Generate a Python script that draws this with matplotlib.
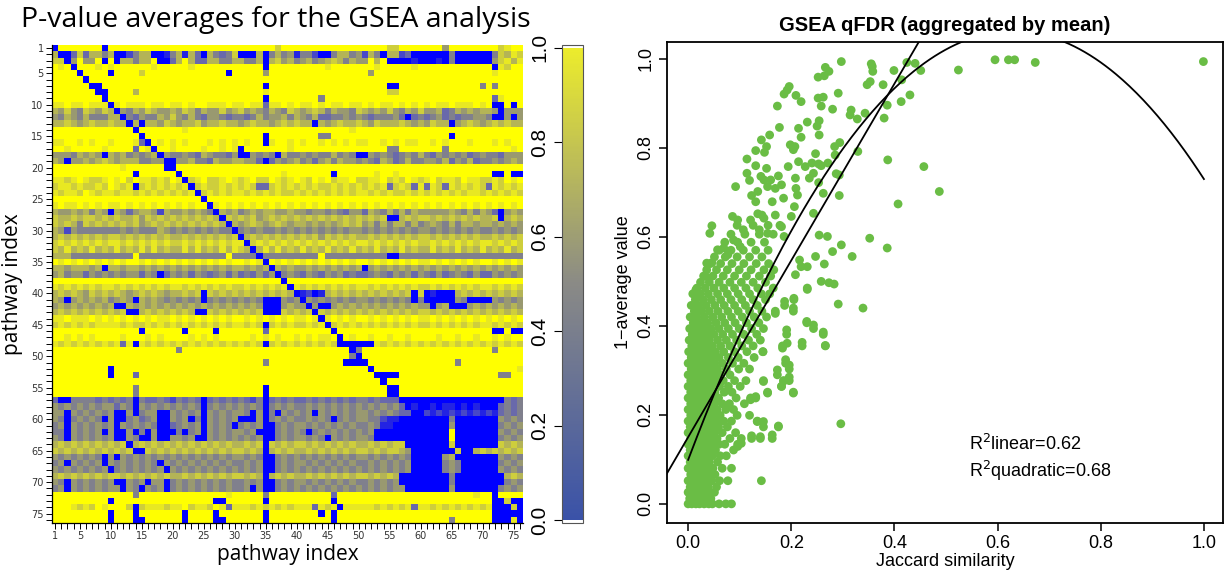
import numpy as np
import matplotlib
matplotlib.use("Agg")
import matplotlib.pyplot as plt
from matplotlib.colors import LinearSegmentedColormap
from matplotlib.cm import ScalarMappable
from matplotlib.colors import Normalize

# heatmap of p-value averages, one digit per cell: 0 -> 0.0 (blue) ... 9 -> 1.0 (yellow)
heat_rows = [
    "0999999909 9999999999 9999999999 9999997999 9999999999 9999779999 9995999999 997899",
    "6003736646 0024660014 6163064347 0006046451 4420046645 2640662300 0000400000 047687",
    "7705955909 0664669003 6963366446 6446067564 5645676465 5969000010 0010400000 057868",
    "9890999898 9999998999 9989999999 9999099999 9999899999 9989999989 9999999999 908799",
    "9999099990 9999799999 9999999909 9999599999 9999999999 9599999999 9999999999 989999",
    "9999909999 9999999999 9999999999 9999999999 9999999999 9999999999 9999999999 999999",
    "9999990099 9999999999 9999999999 9999099999 9999999999 9999009999 9999999994 949999",
    "9999999009 9996999999 9999999999 9999899999 9999999999 9999779999 9999999999 999999",
    "9999999909 9999999999 9999999999 9999099999 9994999999 9999999999 9999999999 938999",
    "8898898880 8988898898 8989988898 8988388989 8898988988 9898898989 8988988898 900909",
    "6575476576 0546576556 5764655756 7565465476 5676465547 6565754657 5563465656 650555",
    "5465464446 6043544657 5464355434 4346455646 5463344545 4344453034 3453434455 400505",
    "6676567667 6606066576 5667566766 5676656767 6606567667 6576667656 5766056765 676766",
    "9999999999 9990999999 9899999999 9999999999 9999999989 9999999999 9999999999 999999",
    "9999999999 9999099999 9999999999 9999099999 9994499999 9999999999 9999099999 999999",
    "8899898998 9998309898 9899989898 9899089989 8998989898 8998989889 9898999899 989899",
    "9989999989 9993980998 9999899898 0999999989 9999999999 9999449999 9994999999 999989",
    "5554656506 5645456054 4543654435 0054540644 5454464540 0545434546 4354545345 443555",
    "6505565676 5666445500 5564436556 6553035456 4535646554 5436534644 5546354634 454565",
    "9999999999 9899999900 9999999999 9999999999 9999999999 9999999999 9999999999 999999",
    "9999999999 9990999999 0999999999 9999999899 9999909999 9989989999 9999999999 900900",
    "8878987789 8979887879 8078977898 7897798789 8798978897 7889787987 8978879887 787989",
    "7887877879 8780787878 7807877878 7873378787 8787787878 7878378738 3873878787 387878",
    "8788798788 7887878787 8780787878 8787878778 7878787878 8787877878 7878787887 878787",
    "9999999999 9999999999 9999099999 9999999999 9999999999 9999999999 9999999999 999999",
    "8988989898 8989898989 8989908989 8989898989 8989898989 8989898989 8989898989 898989",
    "6556564650 6535665265 5656540656 4565665565 5455454355 3654646465 5555654646 530565",
    "7667677676 7667576767 6767676076 7675676767 6767676767 6767006767 7676767676 670676",
    "7676476767 6767567676 7676767606 5676567656 6565656767 5646466464 5654646656 656565",
    "6525444444 4545444654 5454545440 4545445454 5454545455 4545454545 5454545454 454545",
    "6767676767 7676767676 6767676767 0676767676 7675767676 6767676767 7676767676 676767",
    "7878787878 8787878787 7878787878 8078787878 7878787878 8787878787 7878787878 878787",
    "7686768676 8676868676 6868676868 7606868676 8676867686 7686768676 6867686768 676867",
    "6664444444 4449444444 4444444494 4440444444 4449444444 4444004444 4444444444 444444",
    "9898989898 9899898989 8989898989 9898098989 8989898989 9898989898 8989898989 989898",
    "6656665606 6566565656 5656565656 6565606565 5656565656 0565656565 6565656565 656565",
    "5645535454 5455354035 4535434535 3435350454 3543545343 3454354535 4353454353 354545",
    "9999999999 9999999999 9999999999 9999999099 9999999999 9999999999 9999999999 999999",
    "8787878788 7878787878 8787878787 7878787808 7878787878 8787878787 7878787878 878787",
    "6767657676 7656767656 6767076767 6767676760 1201676767 6767676707 0100067676 767676",
    "6505656564 5650656545 4545045454 5454000545 0545454545 5454545404 0000054000 054545",
    "5656565656 0065656565 6565656565 6565000565 5050056565 6565656565 5056000565 656565",
    "6767676767 6700676767 6760076767 6767000767 6707676767 6767676767 7676767676 767676",
    "8898889898 9898989889 8989898989 9898989898 8980898989 9898989898 8989898989 898989",
    "7878787888 8787787878 7878787878 8787078787 7878078787 8787878787 7878787878 878787",
    "9999999999 9999099999 9099990999 9999399999 9999909999 9999999999 9999999999 900900",
    "9989898999 9899989899 9989898999 9989898998 9898890989 9899899899 9989989989 989899",
    "8787878787 8380878787 8787878787 8787078787 8787870000 0087878787 8787878787 878787",
    "9999999999 9999999999 4999999999 9999999999 9999999904 9999999999 9999999999 949999",
    "9999999999 9999999999 9999999999 9999999999 9999999940 9999999999 9999999999 999999",
    "9999999999 9999999999 9999999999 9999499999 9999999000 0999999999 9999949999 999999",
    "9999999990 9999999999 9999999999 9999999999 9999999999 9099999999 9999999999 999998",
    "9999999990 9993999999 9999999999 9999999999 9999999999 9900009999 9999999999 994499",
    "9999999999 9999999999 9999999999 9999999999 9999999999 9990999999 9999999999 999999",
    "9999999999 9994999999 9999999999 9999099999 9999999999 9999009999 9999999999 999999",
    "9999999999 9994999999 9999999999 9999099999 9999999999 9999009999 9999999999 999999",
    "3004444343 4340433432 4343034343 4324034343 3434343434 4343330000 0000000000 000434",
    "5454545455 3540545454 5454045454 5454045454 4545454545 4545453010 0101101010 003434",
    "5505454545 0050455005 4545054545 5405040545 4505454545 5454543300 2121212121 213434",
    "5404545405 0045345005 4504054545 0005045454 4545404545 5442110000 0000400000 005454",
    "4505454545 0545454003 4545054540 4545004545 5454545454 4541100000 0000500000 004545",
    "4405454505 0050405000 4045054545 5450004545 4045454545 4500000000 0000900000 005454",
    "5405454545 0054005005 5450054545 4545004545 5454054545 5400000000 0000900000 004545",
    "6767676767 6706767676 7676767676 6767076767 7676767676 6767677000 0000700000 007676",
    "7676767676 7670076767 6767676767 7676067676 6767676767 7676776500 0000070067 676767",
    "5454545405 0545454545 4545454545 5454004545 4545454545 5454545400 0005600000 005454",
    "4505454505 4545454054 5454545454 4545004545 5454545454 4545454500 0004540000 004545",
    "5454545450 4545454505 4545454545 4545004545 4545454545 4545454500 0004540000 005454",
    "6767676767 7676767676 6767676767 7676067676 6767676767 7676760000 0000400000 000676",
    "5405454545 0054505504 5454545454 4545004545 5454545454 4545450000 0000400000 000454",
    "4505454545 5054054504 5454545454 4505004545 4545454545 4545455000 0000500000 004545",
    "9999999999 9994999999 9999999989 9999499999 9999939999 9999999999 9999999989 909999",
    "9999999990 9999999999 9999990099 9999099999 9999909999 9999999999 9999999999 900700",
    "9998787989 9970788878 8978879838 8878787878 8838780888 8878787838 8787878787 800070",
    "9999999990 9990999999 9099990999 9999099999 9990909999 9999999999 9999999999 900000",
    "9999999990 9990099999 9099990099 9999099999 9999909999 9999999999 9999499999 900080",
]
heat_ticks = [1, 5, 10, 15, 20, 25, 30, 35, 40, 45, 50, 55, 60, 65, 70, 75]

# scattered pairs (Jaccard similarity, 1 - average qFDR), outer points
jac_x = [0.297, 0.266, 0.273, 0.252, 0.264, 0.355, 0.358, 0.357, 0.399, 0.424,
         0.440, 0.451, 0.414, 0.524, 0.595, 0.621, 0.633, 0.673, 0.999, 0.347,
         0.353, 0.378, 0.196, 0.192, 0.186, 0.209, 0.219, 0.252, 0.262, 0.291,
         0.430, 0.413, 0.386, 0.173, 0.258, 0.280, 0.316, 0.314, 0.328, 0.343,
         0.380, 0.254, 0.231, 0.214, 0.177, 0.250, 0.219, 0.254, 0.158, 0.142,
         0.198, 0.207, 0.204, 0.284, 0.294, 0.152, 0.148, 0.131, 0.329, 0.247,
         0.285, 0.114, 0.387, 0.457, 0.214, 0.194, 0.227, 0.240, 0.253, 0.258,
         0.271, 0.131, 0.152, 0.114, 0.287, 0.293, 0.235, 0.243, 0.141, 0.147,
         0.160, 0.175, 0.208, 0.119, 0.092, 0.253, 0.154, 0.169, 0.181, 0.135,
         0.209, 0.212, 0.262, 0.293, 0.487, 0.123, 0.131, 0.163, 0.185, 0.407,
         0.206, 0.169, 0.135, 0.143, 0.147, 0.243, 0.200, 0.086, 0.096, 0.121,
         0.046, 0.042, 0.107, 0.138, 0.154, 0.181, 0.186, 0.352, 0.386, 0.254,
         0.270, 0.297, 0.280, 0.318, 0.247, 0.264, 0.216, 0.219, 0.231, 0.258,
         0.273, 0.283, 0.208, 0.057, 0.069, 0.077, 0.036, 0.046, 0.034, 0.088,
         0.101, 0.015, 0.231, 0.291, 0.339, 0.205, 0.187, 0.204, 0.169, 0.230,
         0.243, 0.262, 0.266, 0.221, 0.191, 0.192, 0.183, 0.145, 0.189, 0.196,
         0.173, 0.196, 0.185, 0.181, 0.204, 0.146, 0.154, 0.131, 0.121, 0.296,
         0.175, 0.146, 0.134, 0.163, 0.140, 0.123, 0.103, 0.096]
avg_y = [0.994, 0.981, 0.972, 0.959, 0.962, 0.989, 0.972, 0.983, 0.974, 0.992,
         0.990, 0.974, 0.953, 0.975, 0.998, 0.998, 0.998, 0.992, 0.994, 0.942,
         0.949, 0.942, 0.938, 0.930, 0.921, 0.918, 0.904, 0.912, 0.914, 0.923,
         0.919, 0.904, 0.896, 0.894, 0.894, 0.887, 0.885, 0.874, 0.865, 0.878,
         0.867, 0.861, 0.858, 0.844, 0.846, 0.849, 0.824, 0.829, 0.829, 0.818,
         0.807, 0.803, 0.796, 0.803, 0.812, 0.803, 0.790, 0.794, 0.792, 0.787,
         0.784, 0.775, 0.773, 0.758, 0.769, 0.758, 0.758, 0.766, 0.764, 0.760,
         0.766, 0.760, 0.754, 0.743, 0.742, 0.739, 0.732, 0.743, 0.736, 0.728,
         0.728, 0.737, 0.732, 0.727, 0.713, 0.722, 0.713, 0.709, 0.717, 0.702,
         0.709, 0.694, 0.698, 0.693, 0.702, 0.693, 0.679, 0.679, 0.687, 0.674,
         0.668, 0.649, 0.652, 0.649, 0.642, 0.653, 0.646, 0.646, 0.638, 0.638,
         0.625, 0.608, 0.616, 0.616, 0.608, 0.623, 0.601, 0.597, 0.575, 0.604,
         0.601, 0.582, 0.567, 0.556, 0.556, 0.539, 0.548, 0.533, 0.533, 0.500,
         0.497, 0.494, 0.515, 0.571, 0.575, 0.560, 0.541, 0.542, 0.511, 0.593,
         0.578, 0.481, 0.482, 0.449, 0.440, 0.462, 0.455, 0.440, 0.428, 0.410,
         0.402, 0.386, 0.356, 0.363, 0.391, 0.361, 0.350, 0.342, 0.324, 0.312,
         0.301, 0.285, 0.276, 0.264, 0.249, 0.275, 0.249, 0.241, 0.234, 0.180,
         0.175, 0.185, 0.185, 0.155, 0.151, 0.153, 0.136, 0.129]

# the dense mass near zero similarity, read as rows of points
dense_y = [0.000, 0.012, 0.026, 0.038, 0.052, 0.066, 0.080, 0.094, 0.108, 0.121,
           0.134, 0.147, 0.160, 0.173, 0.186, 0.199, 0.212, 0.225, 0.238, 0.251,
           0.264, 0.277, 0.290, 0.303, 0.316, 0.329, 0.342, 0.355, 0.368, 0.381,
           0.394, 0.407, 0.420, 0.433, 0.446, 0.459, 0.472, 0.485, 0.498, 0.512,
           0.526, 0.540, 0.555, 0.570, 0.588, 0.606, 0.626]
dense_x = [
    [0.000, 0.007, 0.015, 0.022, 0.031, 0.040, 0.047, 0.060, 0.073, 0.084],
    [0.003, 0.011, 0.020, 0.028, 0.036, 0.044],
    [0.000, 0.008, 0.017, 0.025, 0.034, 0.043, 0.051],
    [0.004, 0.013, 0.021, 0.030, 0.039, 0.055],
    [0.000, 0.009, 0.018, 0.027, 0.036, 0.046, 0.061, 0.077, 0.142],
    [0.005, 0.013, 0.022, 0.032, 0.042, 0.052],
    [0.000, 0.009, 0.018, 0.027, 0.037, 0.048, 0.066, 0.084],
    [0.004, 0.012, 0.022, 0.031, 0.041, 0.057],
    [0.000, 0.008, 0.017, 0.027, 0.036, 0.047, 0.062, 0.074],
    [0.004, 0.013, 0.022, 0.032, 0.042, 0.053, 0.088],
    [0.000, 0.009, 0.018, 0.027, 0.038, 0.049, 0.060, 0.071, 0.096],
    [0.005, 0.014, 0.023, 0.033, 0.044, 0.056, 0.081, 0.103, 0.123, 0.140, 0.163],
    [0.000, 0.009, 0.019, 0.029, 0.040, 0.051, 0.066, 0.092],
    [0.004, 0.013, 0.024, 0.035, 0.046, 0.059, 0.076, 0.146, 0.175],
    [0.000, 0.009, 0.019, 0.030, 0.041, 0.054, 0.069, 0.084, 0.134],
    [0.005, 0.014, 0.025, 0.036, 0.048, 0.062, 0.095, 0.119],
    [0.000, 0.010, 0.020, 0.031, 0.043, 0.056, 0.073, 0.088],
    [0.005, 0.015, 0.026, 0.038, 0.051, 0.066, 0.080, 0.109],
    [0.000, 0.010, 0.021, 0.033, 0.045, 0.059, 0.093, 0.121, 0.131],
    [0.005, 0.015, 0.027, 0.039, 0.052, 0.070, 0.085, 0.154, 0.204],
    [0.000, 0.010, 0.021, 0.034, 0.047, 0.061, 0.078, 0.101, 0.181],
    [0.005, 0.016, 0.028, 0.041, 0.055, 0.068, 0.090, 0.112, 0.146, 0.185, 0.196],
    [0.000, 0.011, 0.023, 0.036, 0.049, 0.063, 0.081, 0.173],
    [0.006, 0.017, 0.030, 0.043, 0.057, 0.074, 0.098, 0.119, 0.196],
    [0.000, 0.011, 0.024, 0.037, 0.051, 0.066, 0.086, 0.108, 0.189],
    [0.006, 0.018, 0.031, 0.045, 0.060, 0.078, 0.097, 0.128],
    [0.001, 0.012, 0.025, 0.039, 0.053, 0.069, 0.090, 0.114, 0.145],
    [0.007, 0.019, 0.033, 0.047, 0.063, 0.081, 0.104, 0.126, 0.183, 0.221, 0.266],
    [0.002, 0.013, 0.027, 0.041, 0.057, 0.074, 0.094, 0.117, 0.140],
    [0.008, 0.021, 0.035, 0.050, 0.067, 0.086, 0.108, 0.133, 0.191, 0.262],
    [0.003, 0.015, 0.029, 0.044, 0.060, 0.078, 0.099, 0.123, 0.146, 0.243],
    [0.010, 0.023, 0.038, 0.054, 0.071, 0.091, 0.113, 0.137, 0.230],
    [0.004, 0.017, 0.032, 0.048, 0.065, 0.084, 0.105, 0.128, 0.152],
    [0.012, 0.026, 0.041, 0.058, 0.077, 0.097, 0.119, 0.143, 0.169, 0.204],
    [0.006, 0.020, 0.035, 0.052, 0.070, 0.090, 0.111, 0.134, 0.187],
    [0.014, 0.029, 0.045, 0.063, 0.083, 0.104, 0.126, 0.150, 0.205],
    [0.009, 0.023, 0.039, 0.057, 0.076, 0.097, 0.119, 0.142, 0.158],
    [0.017, 0.033, 0.050, 0.069, 0.090, 0.112, 0.135, 0.165, 0.231],
    [0.024, 0.041, 0.060, 0.081, 0.103, 0.126, 0.150],
    [0.030, 0.048, 0.068, 0.090, 0.113, 0.138, 0.160],
    [0.036, 0.055, 0.076, 0.099, 0.122, 0.147, 0.166],
    [0.043, 0.063, 0.085, 0.108, 0.132, 0.156],
    [0.051, 0.072, 0.095, 0.119, 0.143],
    [0.060, 0.083, 0.107, 0.131, 0.155],
    [0.071, 0.096, 0.122, 0.148],
    [0.083, 0.110, 0.138, 0.165],
    [0.095, 0.126, 0.155, 0.178],
]

# fitted curves (intercept, slope[, quadratic term])
lin_coef = [0.150, 1.986]
quad_coef = [0.099, 3.058, -2.427]
r2_linear = 0.62
r2_quadratic = 0.68

heat = np.array([[int(c) for c in r.replace(" ", "")] for r in heat_rows]) / 9.0
n = heat.shape[0]

cell_cmap = LinearSegmentedColormap.from_list(
    "pv", [(0.0, "#0000ff"), (0.3, "#6262b4"), (0.5, "#8c8c7e"),
           (0.7, "#bcbc4e"), (0.88, "#e6e626"), (1.0, "#ffff00")])
bar_cmap = LinearSegmentedColormap.from_list("pvbar", ["#3a52a8", "#8a8a86", "#ecec2c"])

fig = plt.figure(figsize=(12.25, 5.73), dpi=100)

# ---- left: heatmap
ax1 = fig.add_axes([52 / 1225, 50 / 573, 471 / 1225, 478 / 573])
ax1.imshow(heat, cmap=cell_cmap, vmin=0, vmax=1, aspect="auto", interpolation="nearest",
           extent=(0.5, n + 0.5, n + 0.5, 0.5))
ax1.set_xlim(0.5, n + 0.5)
ax1.set_ylim(n + 0.5, 0.5)
idx = np.arange(1, n + 1)
labs = [str(i) if i in heat_ticks else "" for i in idx]
ax1.set_xticks(idx)
ax1.set_xticklabels(labs, fontsize=7, color="#333333")
ax1.set_yticks(idx)
ax1.set_yticklabels(labs, fontsize=7, color="#333333")
ax1.tick_params(length=4, width=0.7, pad=2)
for s in ["top", "right"]:
    ax1.spines[s].set_visible(False)
for s in ["left", "bottom"]:
    ax1.spines[s].set_linewidth(0.9)
ax1.set_xlabel("pathway index", fontsize=15, family="Open Sans", labelpad=2)
ax1.set_ylabel("pathway index", fontsize=15, family="Open Sans", labelpad=6)
fig.text(276 / 1225, 1 - 20 / 573, "P-value averages for the GSEA analysis",
         ha="center", va="center", fontsize=20.5, family="Open Sans")

cax = fig.add_axes([562 / 1225, 50 / 573, 21 / 1225, 478 / 573])
cb = fig.colorbar(ScalarMappable(norm=Normalize(0, 1), cmap=bar_cmap), cax=cax)
cax.set_ylim(-0.006, 1.006)
cb.set_ticks([0.0, 0.2, 0.4, 0.6, 0.8, 1.0])
cax.yaxis.set_ticks_position("left")
cax.set_yticklabels(["0.0", "0.2", "0.4", "0.6", "0.8", "1.0"], rotation=90,
                    va="center", ha="right", fontsize=15, family="Liberation Sans")
cax.tick_params(length=6, width=0.8, pad=3)
cb.outline.set_linewidth(0.8)
cb.outline.set_edgecolor("#555555")

# ---- right: scatter
ax2 = fig.add_axes([667 / 1225, 50 / 573, 556 / 1225, 481 / 573])
dx = np.concatenate([np.array(r) for r in dense_x])
dy = np.concatenate([np.full(len(r), y) for r, y in zip(dense_x, dense_y)])
ax2.scatter(dx, dy, s=40, color="#6abd45", edgecolors="none", zorder=2)
ax2.scatter(jac_x, avg_y, s=40, color="#6abd45", edgecolors="none", zorder=2)

xs = np.linspace(-0.1, 1.1, 200)
ax2.plot(xs, lin_coef[0] + lin_coef[1] * xs, color="black", lw=1.3, zorder=3)
xq = np.linspace(0, 1, 300)
ax2.plot(xq, quad_coef[0] + quad_coef[1] * xq + quad_coef[2] * xq ** 2,
         color="black", lw=1.3, zorder=3)

ax2.set_xlim(-0.041, 1.037)
ax2.set_ylim(-0.043, 1.038)
ax2.set_xticks([0.0, 0.2, 0.4, 0.6, 0.8, 1.0])
ax2.set_xticklabels(["0.0", "0.2", "0.4", "0.6", "0.8", "1.0"], fontsize=13,
                    family="Liberation Sans")
ax2.set_yticks([0.0, 0.2, 0.4, 0.6, 0.8, 1.0])
ax2.set_yticklabels(["0.0", "0.2", "0.4", "0.6", "0.8", "1.0"], fontsize=13,
                    family="Liberation Sans", rotation=90, va="center", ha="right")
ax2.tick_params(length=6, width=1.1, pad=3)
for s in ax2.spines.values():
    s.set_linewidth(1.3)
ax2.set_xlabel("Jaccard similarity", fontsize=13, family="Liberation Sans", labelpad=0)
ax2.set_ylabel("1\u2212average value", fontsize=13, family="Liberation Sans", labelpad=4)
ax2.set_title("GSEA qFDR (aggregated by mean)", fontsize=14.5, fontweight="bold",
              family="Liberation Sans", pad=8)
ax2.text(0.545, 0.135, "R$^2$linear=%.2f" % r2_linear, fontsize=13,
         family="Liberation Sans", va="center")
ax2.text(0.545, 0.075, "R$^2$quadratic=%.2f" % r2_quadratic, fontsize=13,
         family="Liberation Sans", va="center")

fig.savefig("out.png", dpi=100)
